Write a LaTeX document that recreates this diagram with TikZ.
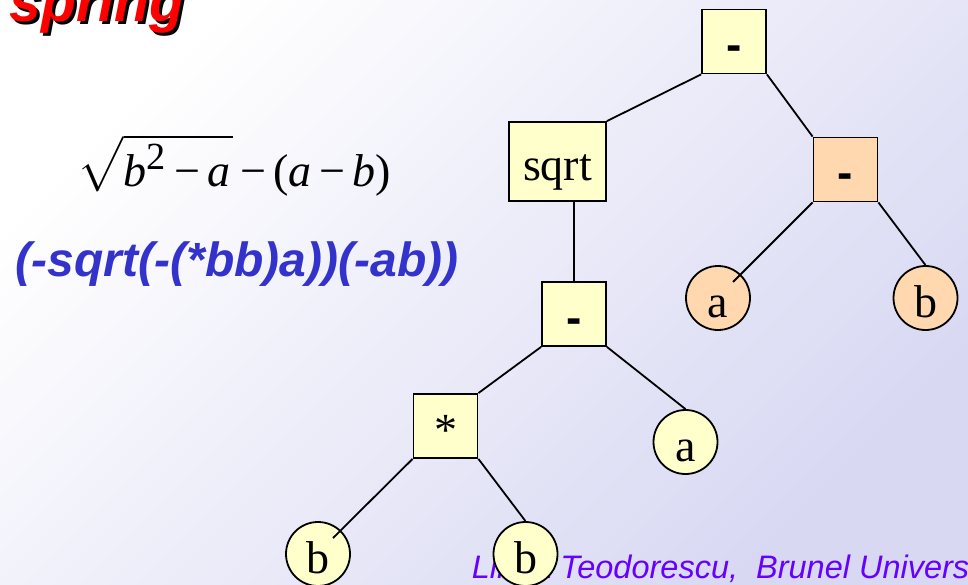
\documentclass[tikz,border=0pt]{standalone}
\usepackage{amsmath}
\usepackage{fontspec}
\setmainfont{Liberation Serif}
\newfontfamily\arialfont{Liberation Sans}
\definecolor{opyellow}{RGB}{255,255,204}
\definecolor{oporange}{RGB}{255,216,176}
\definecolor{bgend}{RGB}{216,216,243}
\definecolor{codeblue}{RGB}{51,51,204}
\definecolor{footviolet}{RGB}{102,0,255}
\newcommand{\tminus}{\kern4pt\textup{−}\kern4pt}
\begin{document}
\begin{tikzpicture}[x=1pt, y=-1pt,
	line width=1.8pt,
	op/.style={rectangle, draw=black, fill=opyellow, minimum size=64pt,
				inner sep=0, text height=38pt, text depth=0pt,
				font=\fontsize{46}{46}\selectfont},
	leaf/.style={circle, draw=black, fill=opyellow, minimum size=64pt,
				inner sep=0, text height=38pt, text depth=0pt,
				font=\fontsize{46}{46}\selectfont}]
	\clip (0,0) rectangle (968,585);
	\useasboundingbox (0,0) rectangle (968,585);
	\shade[top color=white, bottom color=bgend, shading angle=45]
		(0,0) rectangle (968,585);
	% title and texts
	\node[anchor=base west, inner sep=0, text=black,
		font=\arialfont\bfseries\itshape\fontsize{57}{57}\selectfont]
		(titleshadow) at (12,25) {spring};
	\node[anchor=base west, inner sep=0, text=red,
		font=\arialfont\bfseries\itshape\fontsize{57}{57}\selectfont]
		(title) at (9,22) {spring};
	\node[anchor=base west, inner sep=0, font=\fontsize{24.88}{24.88}\selectfont]
		(formula) at (77,187)
		{\scalebox{1.85}{$\sqrt{\textit{b}^{\text{2}}\text{\tminus}\textit{a}\kern1pt}$%
		\tminus(\textit{a}\tminus\textit{b})}};
	\node[anchor=base west, inner sep=0, text=codeblue,
		font=\arialfont\bfseries\itshape\fontsize{48}{48}\selectfont]
		(prefix) at (15,276) {(-sqrt(-(*bb)a))(-ab))};
	\node[anchor=base west, inner sep=0, text=footviolet,
		font=\arialfont\itshape\fontsize{32.5}{32.5}\selectfont]
		(footer) at (471,578) {Linda Teodorescu,\ \ Brunel University};
	% tree
	\node[op] (root) at (734,41.5) {\arialfont\bfseries -};
	\node[op, minimum width=97pt, minimum height=79pt] (sq) at (557.5,161.5) {sqrt};
	\node[op, fill=oporange] (sub2) at (845.5,169.5) {\arialfont\bfseries -};
	\node[leaf, fill=oporange] (a2) at (718,298) {a};
	\node[leaf, fill=oporange] (b3) at (925.5,298) {b};
	\node[op] (sub1) at (574,314) {\arialfont\bfseries -};
	\node[op] (mul) at (445.5,426) {*};
	\node[leaf] (a1) at (685.5,442) {a};
	\node[leaf] (b1) at (318,554) {b};
	\node[leaf] (b2) at (525.5,554) {b};
	\draw (root.south west) -- (sq.north east);
	\draw (root.south east) -- (sub2.north west);
	\draw (sub1.north |- sq.south) -- (sub1.north);
	\draw (sub1.south west) -- (mul.north east);
	\draw (sub1.south east) -- (a1.north);
	\draw (mul.south west) -- ([shift={(15,-16)}]b1.center);
	\draw (mul.south east) -- (b2.north);
	\draw (sub2.south west) -- ([shift={(15,-16)}]a2.center);
	\draw (sub2.south east) -- (b3.north);
\end{tikzpicture}
\end{document}
